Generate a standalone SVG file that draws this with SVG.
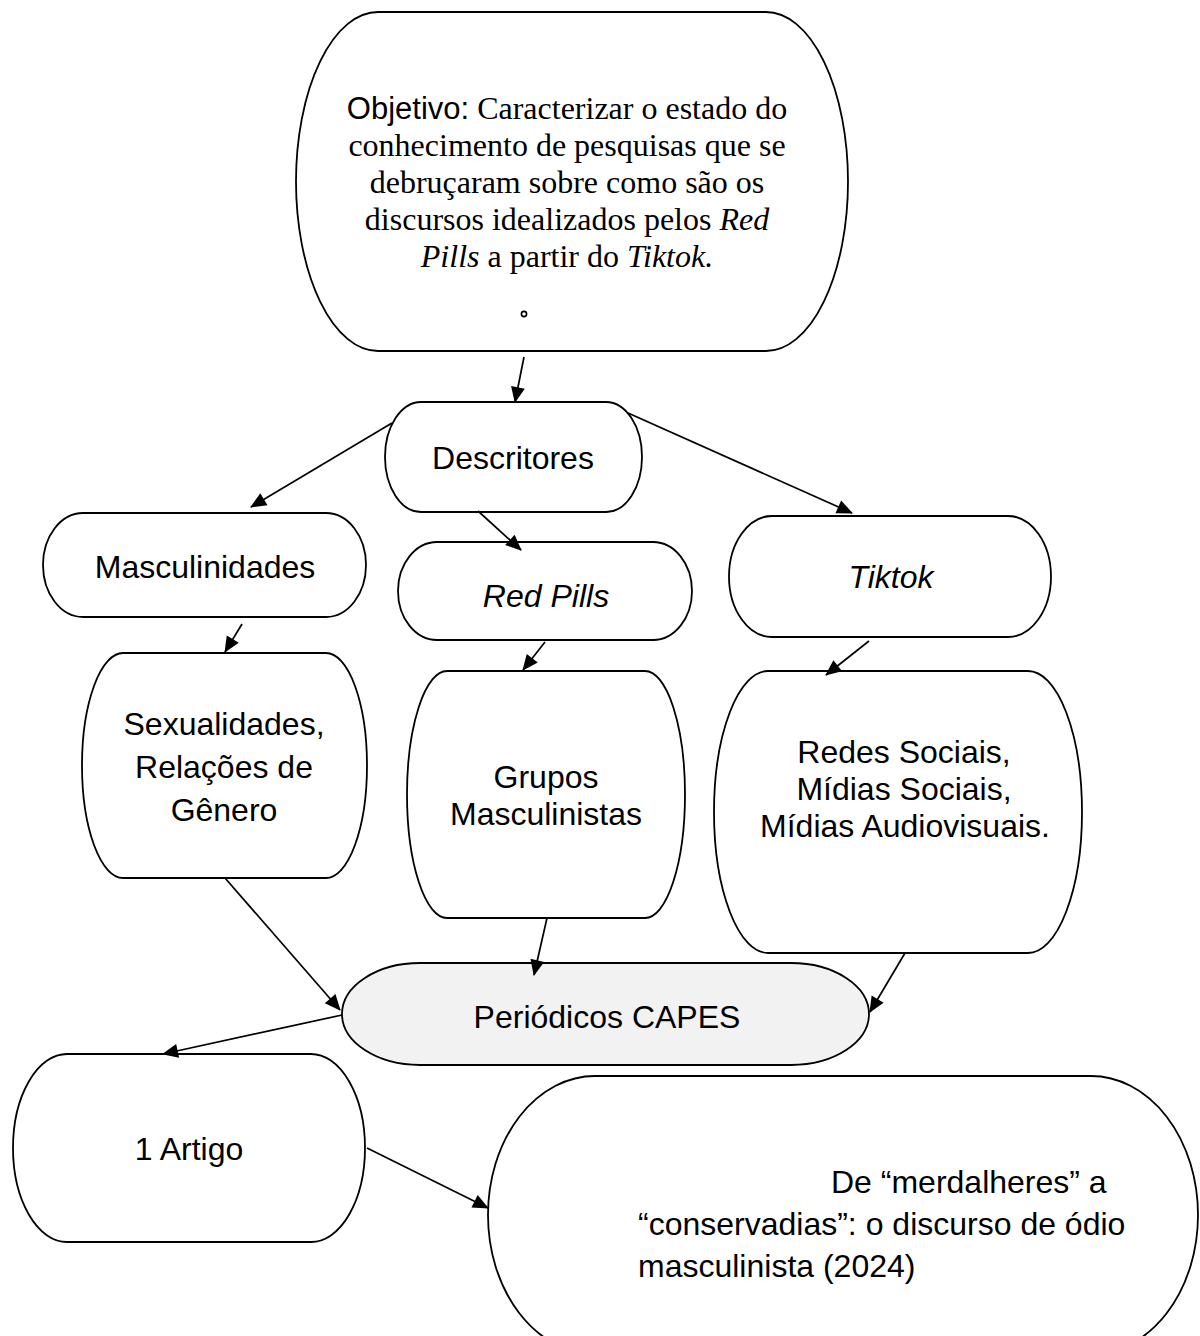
<svg xmlns="http://www.w3.org/2000/svg" width="1200" height="1336" viewBox="0 0 1200 1336">
<defs>
<style>
.n{fill:#fff;stroke:#000;stroke-width:1.8}
.g{fill:#f2f2f2;stroke:#000;stroke-width:1.8}
.t{font-family:"Liberation Sans",Arial,sans-serif;font-size:32px;fill:#000;text-anchor:middle}
.s{font-family:"Liberation Serif","Times New Roman",serif;font-size:32px;fill:#000;text-anchor:middle}
.ss{font-family:"Liberation Sans",Arial,sans-serif;font-size:31px}
.i{font-style:italic}
.c line{stroke:#000;stroke-width:1.7;marker-end:url(#ah)}
</style>
<marker id="ah" markerUnits="userSpaceOnUse" viewBox="0 0 16 14" markerWidth="16" markerHeight="14" refX="15" refY="7" orient="auto" overflow="visible">
<path d="M0,0 L16,7 L0,14 Z" fill="#000"/>
</marker>
</defs>
<rect width="1200" height="1336" fill="#fff"/>
<g id="objetivo">
<path class="n" d="M378,12 H766 A82,169.5 0 0 1 766,351 H378 A82,169.5 0 0 1 378,12 Z"/>
<text class="s" x="567" y="119"><tspan class="ss">Objetivo:</tspan> Caracterizar o estado do</text>
<text class="s" x="567" y="156">conhecimento de pesquisas que se</text>
<text class="s" x="567" y="193">debruçaram sobre como são os</text>
<text class="s" x="567" y="230">discursos idealizados pelos <tspan class="i">Red</tspan></text>
<text class="s" x="567" y="267"><tspan class="i">Pills</tspan> a partir do <tspan class="i">Tiktok.</tspan></text>
<circle cx="524" cy="314" r="2.6" fill="none" stroke="#000" stroke-width="1.6"/>
</g>
<g id="descritores">
<path class="n" d="M421,402 H606 A36,55 0 0 1 606,512 H421 A36,55 0 0 1 421,402 Z"/>
<text class="t" x="513" y="469">Descritores</text>
</g>
<g id="masculinidades">
<path class="n" d="M83,513 H326 A40,52 0 0 1 326,617 H83 A40,52 0 0 1 83,513 Z"/>
<text class="t" x="205" y="578">Masculinidades</text>
</g>
<g id="redpills">
<path class="n" d="M437,542 H653 A39,49 0 0 1 653,640 H437 A39,49 0 0 1 437,542 Z"/>
<text class="t i" x="546" y="607">Red Pills</text>
</g>
<g id="tiktok">
<path class="n" d="M772,516 H1008 A43,60.5 0 0 1 1008,637 H772 A43,60.5 0 0 1 772,516 Z"/>
<text class="t i" x="891" y="588">Tiktok</text>
</g>
<g id="sexualidades">
<path class="n" d="M123,653 H326 A41,112.5 0 0 1 326,878 H123 A41,112.5 0 0 1 123,653 Z"/>
<text class="t" x="224" y="735">Sexualidades,</text>
<text class="t" x="224" y="778">Relações de</text>
<text class="t" x="224" y="821">Gênero</text>
</g>
<g id="grupos">
<path class="n" d="M447,671 H645 A40,123.5 0 0 1 645,918 H447 A40,123.5 0 0 1 447,671 Z"/>
<text class="t" x="546" y="788">Grupos</text>
<text class="t" x="546" y="825">Masculinistas</text>
</g>
<g id="redes">
<path class="n" d="M768,671 H1028 A54,141 0 0 1 1028,953 H768 A54,141 0 0 1 768,671 Z"/>
<text class="t" x="904" y="763">Redes Sociais,</text>
<text class="t" x="904" y="800">Mídias Sociais,</text>
<text class="t" x="905" y="837">Mídias Audiovisuais.</text>
</g>
<g id="periodicos">
<path class="g" d="M420,963 H791 A78,51 0 0 1 791,1065 H420 A78,51 0 0 1 420,963 Z"/>
<text class="t" x="607" y="1028">Periódicos CAPES</text>
</g>
<g id="artigo">
<path class="n" d="M67,1054 H311 A54,94 0 0 1 311,1242 H67 A54,94 0 0 1 67,1054 Z"/>
<text class="t" x="189" y="1160">1 Artigo</text>
</g>
<g id="titulo">
<path class="n" d="M595,1076 H1091 A107,139 0 0 1 1091,1354 H595 A107,139 0 0 1 595,1076 Z"/>
<text class="t" x="831" y="1193" style="text-anchor:start">De “merdalheres” a</text>
<text class="t" x="638" y="1235" style="text-anchor:start">“conservadias”: o discurso de ódio</text>
<text class="t" x="638" y="1277" style="text-anchor:start">masculinista (2024)</text>
</g>
<g id="connectors" class="c">
<line x1="524" y1="357" x2="515" y2="402"/>
<line x1="392" y1="423" x2="251" y2="507"/>
<line x1="478" y1="511" x2="521" y2="550"/>
<line x1="628" y1="413" x2="852" y2="513"/>
<line x1="242" y1="624" x2="225" y2="652"/>
<line x1="545" y1="642" x2="523" y2="670"/>
<line x1="869" y1="641" x2="826" y2="675"/>
<line x1="225" y1="878" x2="340" y2="1010"/>
<line x1="547" y1="918" x2="534" y2="975"/>
<line x1="905" y1="953" x2="870" y2="1012"/>
<line x1="342" y1="1015" x2="163" y2="1054"/>
<line x1="367" y1="1148" x2="488" y2="1208"/>
</g>
</svg>
